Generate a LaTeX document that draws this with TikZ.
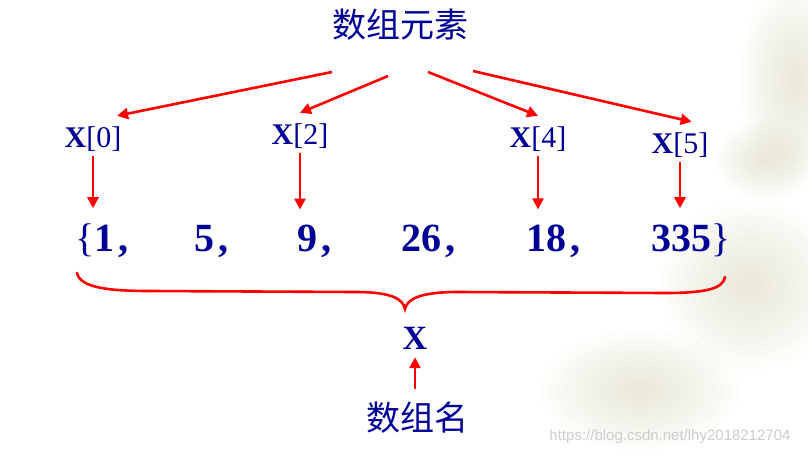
\documentclass[tikz,border=0pt]{standalone}
\usepackage{fontspec}
\setmainfont{Liberation Serif}
\newfontfamily\cjk{Noto Sans CJK SC}
\newfontfamily\wmfont{Liberation Sans}
\usepackage{tikz}
\usetikzlibrary{arrows.meta,positioning,calc}
\usepackage{xcolor}
\definecolor{navy}{RGB}{0,0,150}
\definecolor{bgtint}{RGB}{200,198,160}
\newcommand{\Xel}[1]{\textbf{X}[#1]}
\newcommand{\cm}{\hspace{4pt},}

\begin{document}
\begin{tikzpicture}[x=1pt, y=-1pt,
  title/.style={font=\cjk\fontsize{34}{40}\selectfont, text=navy, inner sep=0pt},
  elem/.style={font=\fontsize{30}{34}\selectfont, text=navy, inner sep=0pt, anchor=base, text height=31pt, text depth=9pt},
  num/.style={font=\bfseries\fontsize{40}{46}\selectfont, text=navy, inner sep=0pt, outer xsep=0pt, outer ysep=15pt, anchor=base west},
  arr/.style={-{Triangle[length=11pt,width=11pt]}, line width=2.6pt, red},
  brace/.style={line width=2.6pt, red, line cap=round},
]
\useasboundingbox (0,0) rectangle (808,455);

% Background
\foreach \cx/\cy/\a/\b in {795/80/55/100, 765/160/50/40, 750/285/90/85, 640/390/100/60}{
  \foreach \k in {1,...,12}
    \fill[bgtint, opacity=0.04] (\cx,\cy) ellipse ({\a*\k/12} and {\b*\k/12});
}

% Elements (top)
\node[title] (elem) at (400,25) {数组元素};
\coordinate (s0) at (332,72);
\coordinate (s1) at (388,76);
\coordinate (s2) at (428,72);
\coordinate (s3) at (473,71);

\node[elem] (x0) at (93,147) {\Xel{0}};
\node[elem] (x2) at (300,144) {\Xel{2}};
\node[elem] (x4) at (538,147) {\Xel{4}};
\node[elem] (x5) at (680,153) {\Xel{5}};

\draw[arr] (s0) -- (x0.40);
\draw[arr] (s1) -- (x2.north);
\draw[arr] (s2) -- (x4.north);
\draw[arr] (s3) -- (x5.60);

% Values
\node[num] (n0) at (75,251) {{\mdseries\{}1\cm};
\node[num] (n1) at (194,251) {5\cm};
\node[num] (n2) at (297,251) {9\cm};
\node[num] (n3) at (401,251) {26\cm};
\node[num] (n4) at (526,251) {18\cm};
\node[num] (n5) at (651,251) {335{\mdseries\}}};

\draw[arr] (x0.south) -- (x0.south |- n0.north);
\draw[arr] (x2.south) -- (x2.south |- n2.north);
\draw[arr] (x4.south) -- (x4.south |- n4.north);
\draw[arr] (x5.south) -- (x5.south |- n5.north);

% Brace
\draw[brace] (77,273) .. controls (80,288) and (110,291) .. (150,291) -- (355,292)
  .. controls (392,292) and (403,299) .. (405,309)
  .. controls (407,299) and (420,292) .. (458,292) -- (665,293)
  .. controls (705,293) and (723,289) .. (725,277);

% Name (bottom)
\node[font=\bfseries\fontsize{34}{40}\selectfont, text=navy, inner sep=0pt, anchor=base, text depth=8pt] (xname) at (415,349) {X};
\node[title, anchor=base, outer ysep=12pt] (name) at (417,430) {数组名};
\draw[arr] (name.north -| xname.south) -- (xname.south);

\node[font=\wmfont\fontsize{15}{18}\selectfont, text=gray!40, inner sep=0pt] (wm) at (670,437) {https://blog.csdn.net/lhy2018212704};

\end{tikzpicture}
\end{document}
